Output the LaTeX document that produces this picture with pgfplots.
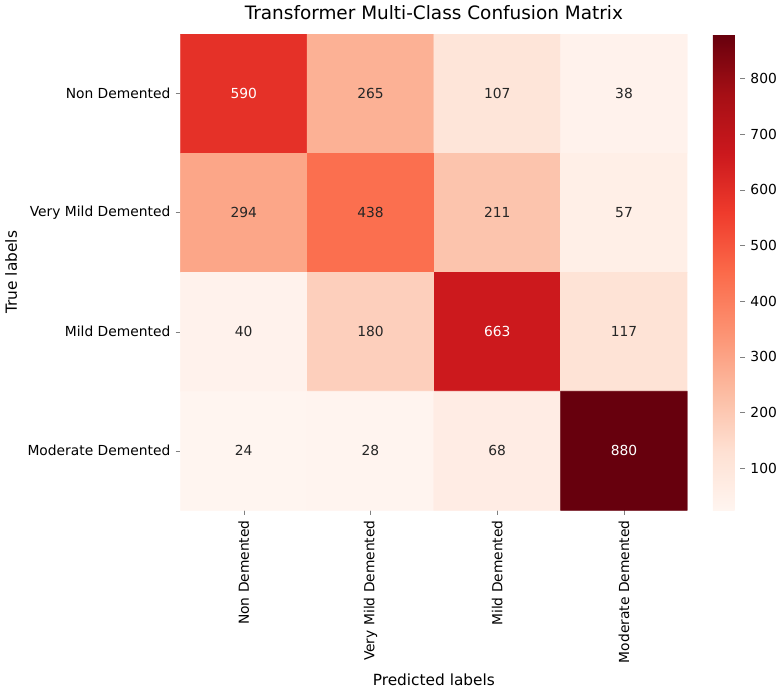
\documentclass[border=0pt]{standalone}
\usepackage{fontspec}
\setmainfont{DejaVu Sans}
\usepackage{pgfplots}
\pgfplotsset{compat=1.18}
\begin{document}
\begin{tikzpicture}
\begin{axis}[
  /pgf/number format/assume math mode=true,
  scale only axis, width=330pt, height=310pt,
  xmin=-0.5, xmax=3.5, ymin=-0.5, ymax=3.5, y dir=reverse,
  axis line style={draw=none},
  xtick={0,1,2,3}, ytick={0,1,2,3},
  xtick pos=bottom, ytick pos=left,
  xticklabels={Non Demented,Very Mild Demented,Mild Demented,Moderate Demented},
  yticklabels={Non Demented,Very Mild Demented,Mild Demented,Moderate Demented},
  x tick label style={rotate=90, anchor=east, font=\small},
  y tick label style={font=\small},
  tick align=outside, major tick length=3pt,
  xlabel={Predicted labels}, ylabel={True labels},
  title={Transformer Multi-Class Confusion Matrix},
  title style={font=\large},
  colormap={reds}{rgb255=(255,245,240) rgb255=(254,224,210) rgb255=(252,187,161) rgb255=(252,146,114) rgb255=(251,106,74) rgb255=(239,59,44) rgb255=(203,24,29) rgb255=(165,15,21) rgb255=(103,0,13)},
  point meta min=24, point meta max=880,
  colorbar, colorbar style={width=18pt, xshift=8pt, ytick={100,200,...,800},
    /pgf/number format/assume math mode=true,
    ytick pos=right, y tick label style={font=\small}, axis line style={draw=none}, major tick length=3pt, tick align=outside},
]
\addplot[matrix plot*, mesh/cols=4, point meta=explicit] coordinates {
(0,0) [590] (1,0) [265] (2,0) [107] (3,0) [38]

(0,1) [294] (1,1) [438] (2,1) [211] (3,1) [57]

(0,2) [40] (1,2) [180] (2,2) [663] (3,2) [117]

(0,3) [24] (1,3) [28] (2,3) [68] (3,3) [880]
};
\addplot[only marks, mark=none, nodes near coords, point meta=explicit symbolic,
  nodes near coords style={anchor=center, font=\small, text=black!85}] coordinates {
(1,0) [265] (2,0) [107] (3,0) [38]
(0,1) [294] (1,1) [438] (2,1) [211] (3,1) [57]
(0,2) [40] (1,2) [180] (3,2) [117]
(0,3) [24] (1,3) [28] (2,3) [68]
};
\addplot[only marks, mark=none, nodes near coords, point meta=explicit symbolic,
  nodes near coords style={anchor=center, font=\small, text=white}] coordinates {
(0,0) [590] (2,2) [663] (3,3) [880]
};
\end{axis}
\end{tikzpicture}
\end{document}
